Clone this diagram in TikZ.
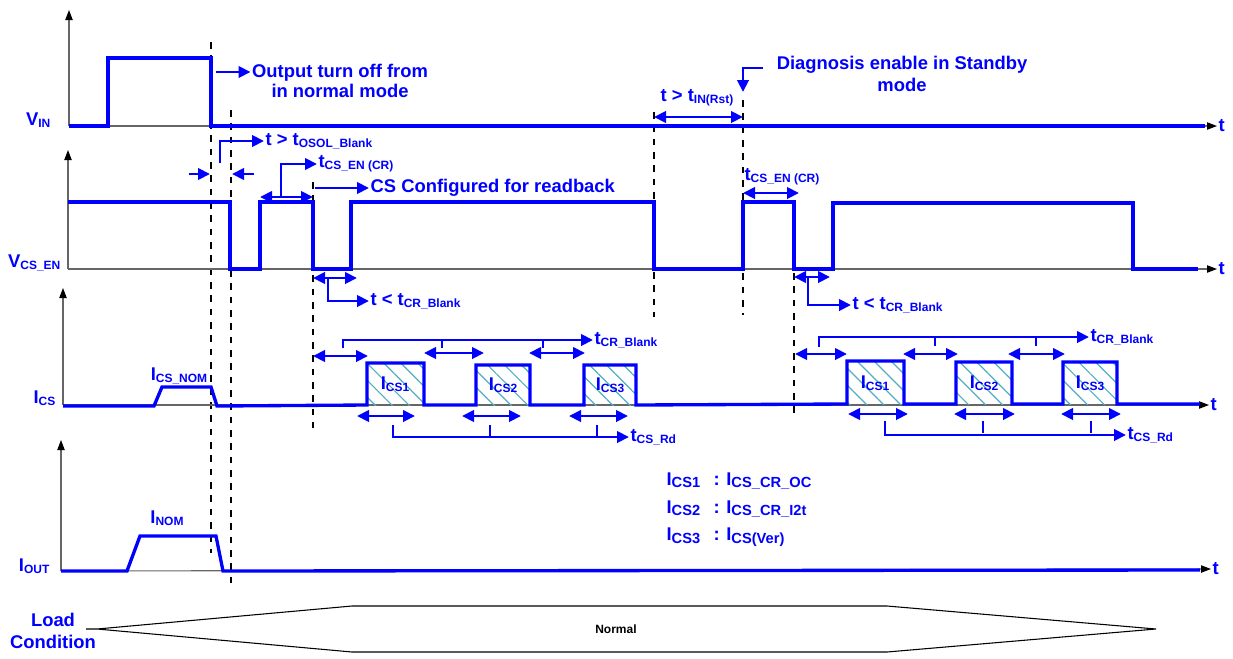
\documentclass[tikz,border=0pt]{standalone}
\usepackage{fontspec}
\setmainfont{Liberation Sans}
\usetikzlibrary{arrows.meta,patterns.meta,positioning}
\definecolor{sigblue}{RGB}{0,0,255}
\definecolor{hatchcol}{RGB}{80,175,195}
\newcommand{\tsub}[3][9]{#2\raisebox{-1.8pt}{\fontsize{#1}{#1}\selectfont #3}}

\begin{document}
\begin{tikzpicture}[x=0.75pt,y=-0.75pt,>={Triangle[length=9pt,width=8.5pt]},
  taxis/.style={draw=black!60,line width=0.8pt,-{Triangle[length=7.5pt,width=5.5pt,black]}},
  sigwave/.style={sigblue,line width=2.5pt},
  annarrow/.style={sigblue,line width=2.2pt},
  guideline/.style={black,line width=1.2pt,dash pattern=on 5pt off 5pt},
  tlabel/.style={text=sigblue,font=\bfseries\fontsize{13.8}{16}\selectfont,inner sep=1pt},
  hatched/.style={pattern={Lines[angle=-45,distance=9pt,line width=0.9pt]},pattern color=hatchcol}]
  \useasboundingbox (0,0) rectangle (1233,658);

  % dashed time markers
  \draw[guideline] (211,42)--(211,553); \draw[guideline] (231,110)--(231,587);
  \draw[guideline] (313,182)--(313,428);
  \draw[guideline] (654,112)--(654,317); \draw[guideline] (743,100)--(743,315);
  \draw[guideline] (794,273)--(794,417);

  % V_IN
  \node[tlabel,anchor=east] (vin) at (52,120) {\tsub{V}{IN}};
  \node[tlabel,anchor=west] (t1) at (1217,126) {t};
  \draw[taxis] (69,126)--(69,10); \draw[taxis] (69,126)--(t1.west);
  \draw[sigwave] (69,126)--(108,126)--(108,58)--(211,58)--(211,126)--(1205,126);
  \node[tlabel,align=center,font=\bfseries\fontsize{13.8}{15.5}\selectfont] (offtxt) at (340,81) {Output turn off from\\in normal mode};
  \coordinate (offstart) at (216,72);
  \draw[annarrow,->] (offstart)--(offstart -| offtxt.west);
  \node[tlabel,align=center,font=\bfseries\fontsize{13.8}{16.5}\selectfont] (diag) at (902,74) {Diagnosis enable in Standby\\mode};
  \draw[annarrow,->] (763,68) -| (743,92);
  \node[tlabel] (inrst) at (697,98) {t > \tsub{t}{IN(Rst)}};
  \draw[annarrow,<->] (654,117)--(743,117);

  % V_CS_EN
  \node[tlabel,anchor=east] (vcsen) at (62,263) {\tsub{V}{CS\_EN}};
  \node[tlabel,anchor=west] (t2) at (1217,269) {t};
  \draw[taxis] (68,269)--(68,150); \draw[taxis] (68,269)--(t2.west);
  \draw[sigwave] (68,202)--(230,202)--(230,269)--(260,269)--(260,202)--(313,202)--(313,269)--(351,269)--(351,202)
    --(654,202)--(654,269)--(743,269)--(743,202)--(794,202)--(794,269)--(833,269)--(833,203)--(1133,203)--(1133,269)--(1198,269);
  \node[tlabel,anchor=west] (osol) at (264,141) {t > \tsub{t}{OSOL\_Blank}};
  \draw[annarrow,->] (220,163) |- (osol.west);
  \draw[annarrow,->] (189,174)--(210,174); \draw[annarrow,->] (254,174)--(232,174);
  \node[tlabel,anchor=west] (csen1) at (317,164) {\tsub{t}{CS\_EN (CR)}};
  \draw[annarrow,<->] (260,197)--(313,197);
  \draw[annarrow,->] (281,197) |- (csen1.west);
  \node[tlabel,anchor=west] (cfg) at (369,188) {CS Configured for readback};
  \draw[annarrow,->] (315,188)--(cfg.west);
  \node[tlabel,anchor=west] (crb1) at (369,301) {t < \tsub{t}{CR\_Blank}};
  \draw[annarrow,<->] (313,278)--(357,278);
  \draw[annarrow,->] (328,278) |- (crb1.west);
  \node[tlabel] (csen2) at (782,177) {\tsub{t}{CS\_EN (CR)}};
  \draw[annarrow,<->] (743,193)--(799,193);
  \node[tlabel,anchor=west] (crb2) at (851,305) {t < \tsub{t}{CR\_Blank}};
  \draw[annarrow,<->] (794,277)--(830,277);
  \draw[annarrow,->] (808,277) |- (crb2.west);

  % I_CS
  \node[tlabel,anchor=east] (ics) at (57,398) {\tsub{I}{CS}};
  \node[tlabel,anchor=west] (t3) at (1209,405) {t};
  \draw[taxis] (63,405)--(63,288); \draw[taxis] (63,405)--(t3.west);
  \fill[hatched] (367,363) rectangle (424,405); \fill[hatched] (476,365) rectangle (530,405);
  \fill[hatched] (584,365) rectangle (636,405);
  \fill[hatched] (847,361) rectangle (904,404); \fill[hatched] (956,362) rectangle (1012,404);
  \fill[hatched] (1063,362) rectangle (1117,404);
  \draw[sigwave] (63,406)--(154,406)--(162,387)--(211,387)--(217,406)--(367,405)--(367,363)--(424,363)--(424,405)
    --(476,405)--(476,365)--(530,365)--(530,405)--(584,405)--(584,365)--(636,365)--(636,405)--(847,404)--(847,361)
    --(904,361)--(904,404)--(956,404)--(956,362)--(1012,362)--(1012,404)--(1063,404)--(1063,362)--(1117,362)--(1117,404)--(1200,404);
  \node[tlabel] (icsnom) at (179,376) {\tsub{I}{CS\_NOM}};
  \node[tlabel] (pa1) at (395,384) {\tsub{I}{CS1}};
  \node[tlabel] (pa2) at (503,385) {\tsub{I}{CS2}};
  \node[tlabel] (pa3) at (610,385) {\tsub{I}{CS3}};
  \node[tlabel] (pb1) at (875,383) {\tsub{I}{CS1}};
  \node[tlabel] (pb2) at (984,383) {\tsub{I}{CS2}};
  \node[tlabel] (pb3) at (1090,383) {\tsub{I}{CS3}};
  % blanking and read-out marks, first group
  \node[tlabel,anchor=west] (crbl1) at (593,340) {\tsub{t}{CR\_Blank}};
  \draw[annarrow,<->] (313,356)--(368,356); \draw[annarrow,<->] (424,353)--(484,353);
  \draw[annarrow,<->] (529,353)--(585,353);
  \draw[annarrow,->] (343,348) |- (crbl1.west);
  \draw[annarrow] (442,340)--(442,348); \draw[annarrow] (543,340)--(543,348);
  \node[tlabel,anchor=west] (csrd1) at (629,437) {\tsub{t}{CS\_Rd}};
  \draw[annarrow,<->] (357,416)--(415,416); \draw[annarrow,<->] (462,416)--(521,416);
  \draw[annarrow,<->] (569,416)--(628,416);
  \draw[annarrow,->] (393,425) |- (csrd1.west);
  \draw[annarrow] (490,425)--(490,436); \draw[annarrow] (597,425)--(597,436);
  % blanking and read-out marks, second group
  \node[tlabel,anchor=west] (crbl2) at (1089,337) {\tsub{t}{CR\_Blank}};
  \draw[annarrow,<->] (795,354)--(847,354); \draw[annarrow,<->] (903,354)--(958,354);
  \draw[annarrow,<->] (1008,354)--(1065,354);
  \draw[annarrow,->] (819,347) |- (crbl2.west);
  \draw[annarrow] (935,337)--(935,346); \draw[annarrow] (1036,337)--(1036,346);
  \node[tlabel,anchor=west] (csrd2) at (1126,435) {\tsub{t}{CS\_Rd}};
  \draw[annarrow,<->] (848,414)--(908,414); \draw[annarrow,<->] (954,414)--(1015,414);
  \draw[annarrow,<->] (1061,414)--(1121,414);
  \draw[annarrow,->] (885,421) |- (csrd2.west);
  \draw[annarrow] (983,421)--(983,433); \draw[annarrow] (1091,421)--(1091,433);

  % legend
  \node[tlabel,anchor=west] (leg1) at (665,481) {\tsub[11]{I}{CS1}\hspace{10pt}:\hspace{5pt}\tsub[11]{I}{CS\_CR\_OC}};
  \node[tlabel,anchor=west] (leg2) at (665,509) {\tsub[11]{I}{CS2}\hspace{10pt}:\hspace{5pt}\tsub[11]{I}{CS\_CR\_I2t}};
  \node[tlabel,anchor=west] (leg3) at (665,537) {\tsub[11]{I}{CS3}\hspace{10pt}:\hspace{5pt}\tsub[11]{I}{CS(Ver)}};

  % I_OUT
  \node[tlabel,anchor=east] (iout) at (51,566) {\tsub{I}{OUT}};
  \node[tlabel,anchor=west] (t4) at (1211,569) {t};
  \draw[taxis] (61,571)--(61,440); \draw[taxis] (61,571)--(t4.west);
  \draw[sigwave] (61,571)--(127,571)--(140,536)--(216,536)--(223,571)--(1200,570);
  \node[tlabel] (inom) at (167,518) {\tsub{I}{NOM}};

  % load condition
  \node[tlabel,align=center,font=\bfseries\fontsize{13.8}{16.5}\selectfont] (load) at (53,631) {Load\\Condition};
  \draw[black,line width=0.8pt] (86,629)--(97,629)--(352,606)--(887,606)--(1156,629)--(887,652)--(352,652)--(97,629);
  \node[font=\bfseries\fontsize{9}{10}\selectfont] (normal) at (616,629) {Normal};
\end{tikzpicture}
\end{document}
